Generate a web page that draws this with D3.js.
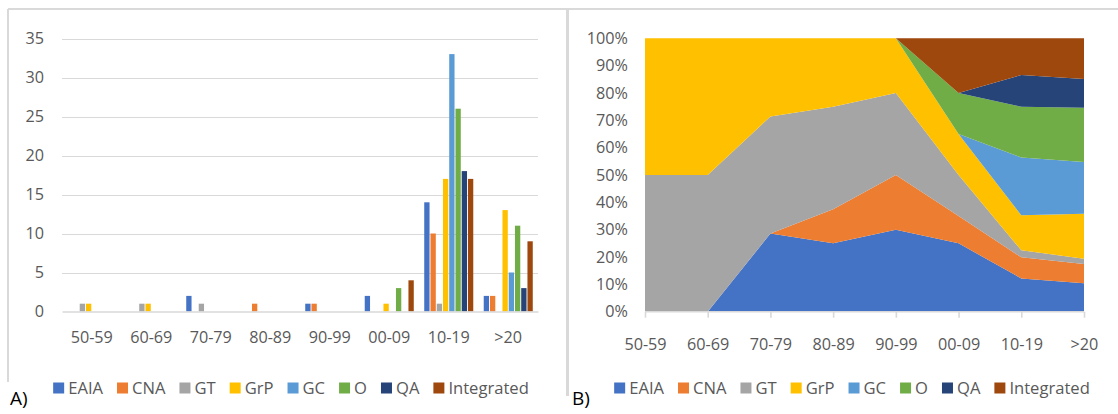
<!DOCTYPE html>
<html>
<head>
<meta charset="utf-8">
<script src="https://cdn.jsdelivr.net/npm/d3@7"></script>
<style>
  html, body { margin: 0; padding: 0; background: #fff; }
  svg { display: block; font-family: "Open Sans", sans-serif; }
</style>
</head>
<body>
<svg id="fig" width="1118" height="414"></svg>
<script>
// Decades of publication
const decades = ["50-59", "60-69", "70-79", "80-89", "90-99", "00-09", "10-19", ">20"];

// Method families
const methods = ["EAIA", "CNA", "GT", "GrP", "GC", "O", "QA", "Integrated"];
const methodColors = ["#4472C4", "#ED7D31", "#A5A5A5", "#FFC000", "#5B9BD5", "#70AD47", "#264478", "#9E480E"];

// Number of studies per decade, one array per method (panel A)
const countEAIA       = [0, 0, 2, 0, 1, 2, 14, 2];
const countCNA        = [0, 0, 0, 1, 1, 0, 10, 2];
const countGT         = [1, 1, 1, 0, 0, 0, 1, 0];
const countGrP        = [1, 1, 0, 0, 0, 1, 17, 13];
const countGC         = [0, 0, 0, 0, 0, 0, 33, 5];
const countO          = [0, 0, 0, 0, 0, 3, 26, 11];
const countQA         = [0, 0, 0, 0, 0, 0, 18, 3];
const countIntegrated = [0, 0, 0, 0, 0, 4, 17, 9];

// Running totals of studies up to each decade, one array per method (panel B)
const totalEAIA       = [0, 0, 2, 2, 3, 5, 19, 21];
const totalCNA        = [0, 0, 0, 1, 2, 2, 12, 14];
const totalGT         = [1, 2, 3, 3, 3, 3, 4, 4];
const totalGrP        = [1, 2, 2, 2, 2, 3, 20, 33];
const totalGC         = [0, 0, 0, 0, 0, 0, 33, 38];
const totalO          = [0, 0, 0, 0, 0, 3, 29, 40];
const totalQA         = [0, 0, 0, 0, 0, 0, 18, 21];
const totalIntegrated = [0, 0, 0, 0, 0, 4, 21, 30];

// Axis tick values
const countTicks = [0, 5, 10, 15, 20, 25, 30, 35];
const shareTicks = [0, 0.1, 0.2, 0.3, 0.4, 0.5, 0.6, 0.7, 0.8, 0.9, 1];

const countSeries = [countEAIA, countCNA, countGT, countGrP, countGC, countO, countQA, countIntegrated];
const totalSeries = [totalEAIA, totalCNA, totalGT, totalGrP, totalGC, totalO, totalQA, totalIntegrated];

const svg = d3.select("#fig");
const textColor = "#595959";
const lineColor = "#d9d9d9";
const fontSize = "16.2px";

svg.append("rect").attr("width", 1118).attr("height", 414).attr("fill", "#fff");

// Panel frames
const frame = svg.append("g").attr("stroke", lineColor).attr("fill", "none");
frame.append("line").attr("x1", 8).attr("x2", 567).attr("y1", 9).attr("y2", 9).attr("stroke-width", 2);
frame.append("line").attr("x1", 8).attr("x2", 8).attr("y1", 9).attr("y2", 382).attr("stroke-width", 2);
frame.append("line").attr("x1", 567.5).attr("x2", 567.5).attr("y1", 9).attr("y2", 396).attr("stroke-width", 3);
frame.append("line").attr("x1", 567).attr("x2", 1118).attr("y1", 9).attr("y2", 9).attr("stroke-width", 2);

// Legend drawn below each panel, centred on cx
function legend(cx, cy) {
  const g = svg.append("g");
  const items = g.selectAll("g.item").data(methods).join("g").attr("class", "item");
  items.append("rect")
    .attr("width", 11).attr("height", 11)
    .attr("y", cy - 5.5)
    .attr("fill", (d, i) => methodColors[i]);
  items.append("text")
    .attr("x", 15).attr("y", cy).attr("dy", "0.35em")
    .attr("font-size", "16.6px").attr("fill", textColor)
    .text(d => d);
  let x = 0;
  const offsets = [];
  items.each(function () {
    offsets.push(x);
    const w = d3.select(this).select("text").node().getComputedTextLength();
    x += 15 + w + 14;
  });
  const total = x - 14;
  const start = cx - total / 2;
  items.attr("transform", (d, i) => `translate(${start + offsets[i]},0)`);
}

// ---------- Panel A: grouped columns ----------
{
  const x0 = d3.scaleBand().domain(decades).range([62, 538]).padding(0);
  const pad = x0.bandwidth() * 0.088;
  const x1 = d3.scaleBand().domain(methods).range([pad, x0.bandwidth() - pad]).paddingInner(0.15);
  const y = d3.scaleLinear().domain([0, 35]).range([311.5, 38.5]);

  const grid = svg.append("g");
  grid.selectAll("line").data(countTicks.filter(t => t > 0)).join("line")
    .attr("x1", 62).attr("x2", 538)
    .attr("y1", d => Math.round(y(d)) + 0.5).attr("y2", d => Math.round(y(d)) + 0.5)
    .attr("stroke", lineColor).attr("stroke-width", 1.2);

  const yAxis = svg.append("g").attr("transform", "translate(62,0)")
    .call(d3.axisLeft(y).tickValues(countTicks).tickSize(0).tickPadding(18));
  yAxis.select(".domain").remove();
  yAxis.selectAll("text").attr("font-size", fontSize).attr("fill", textColor).attr("font-family", "Open Sans");

  const groups = svg.append("g").selectAll("g").data(decades).join("g")
    .attr("transform", d => `translate(${x0(d)},0)`);
  groups.selectAll("rect")
    .data((d, di) => methods.map((m, mi) => ({ m, mi, v: countSeries[mi][di] })).filter(e => e.v > 0))
    .join("rect")
    .attr("x", e => x1(e.m))
    .attr("width", x1.bandwidth())
    .attr("y", e => y(e.v))
    .attr("height", e => y(0) - y(e.v))
    .attr("fill", e => methodColors[e.mi]);

  const xAxis = svg.append("g").attr("transform", `translate(0,${y(0)})`)
    .call(d3.axisBottom(x0).tickSize(0).tickPadding(20));
  xAxis.select(".domain").attr("stroke", lineColor).attr("stroke-width", 1.6);
  xAxis.selectAll("text").attr("font-size", fontSize).attr("fill", textColor).attr("font-family", "Open Sans");

  legend(291, 388);
  svg.append("text").attr("x", 10).attr("y", 405).attr("font-size", "19px").attr("fill", "#000").text("A)");
}

// ---------- Panel B: 100% stacked area of running totals ----------
{
  const x = d3.scalePoint().domain(decades).range([645, 1084]);
  const y = d3.scaleLinear().domain([0, 1]).range([311.7, 38.3]);

  const rows = decades.map((d, di) => {
    const r = { decade: d };
    methods.forEach((m, mi) => { r[m] = totalSeries[mi][di]; });
    return r;
  });
  const stacked = d3.stack().keys(methods).offset(d3.stackOffsetExpand)(rows);
  const area = d3.area()
    .x(d => x(d.data.decade))
    .y0(d => y(d[0]))
    .y1(d => y(d[1]));

  svg.append("g").selectAll("path").data(stacked).join("path")
    .attr("d", area)
    .attr("fill", (d, i) => methodColors[i]);

  const yAxis = svg.append("g").attr("transform", "translate(645,0)")
    .call(d3.axisLeft(y).tickValues(shareTicks).tickFormat(d3.format(".0%")).tickSize(0).tickPadding(17));
  yAxis.select(".domain").remove();
  yAxis.selectAll("text").attr("font-size", fontSize).attr("fill", textColor).attr("font-family", "Open Sans");

  const xAxis = svg.append("g").attr("transform", `translate(0,${y(0)})`)
    .call(d3.axisBottom(x).tickSize(6).tickPadding(21));
  xAxis.select(".domain").attr("stroke", lineColor).attr("stroke-width", 1.6).attr("d", "M645,0H1084");
  xAxis.selectAll(".tick line").attr("stroke", lineColor).attr("stroke-width", 1.6);
  xAxis.selectAll("text").attr("font-size", fontSize).attr("fill", textColor).attr("font-family", "Open Sans");

  legend(852, 388);
  svg.append("text").attr("x", 572).attr("y", 405).attr("font-size", "19px").attr("fill", "#000").text("B)");
}
</script>
</body>
</html>
